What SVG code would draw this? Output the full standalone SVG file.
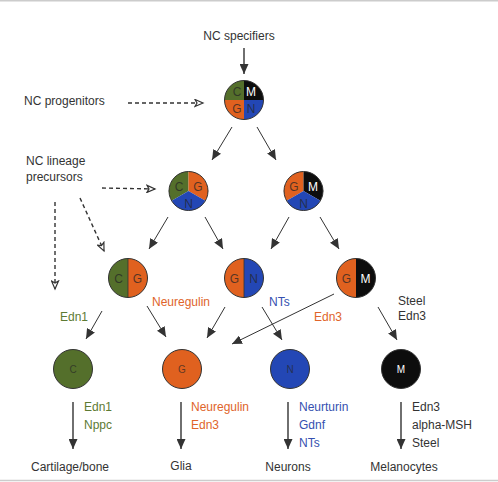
<svg xmlns="http://www.w3.org/2000/svg" width="498" height="482" viewBox="0 0 498 482">
<defs>
<style>
text{font-family:"Liberation Sans",Arial,sans-serif;font-size:12px;fill:#333}
.t{fill:#333}
.g{fill:#5d7a33}
.o{fill:#e0642a}
.b{fill:#3550b0}
.cl{font-size:12px;fill:#262626;fill-opacity:.75;text-anchor:middle}
.cw{font-size:12px;fill:#fff;text-anchor:middle}
.sl{font-size:10px;fill:#262626;fill-opacity:.7;text-anchor:middle}
.sw{font-size:10px;fill:#fff;text-anchor:middle}
.edge{stroke:#333;stroke-width:1;fill:none}
.v{stroke:#333;stroke-width:1.4;fill:none}
.dash{stroke:#333;stroke-width:1.4;stroke-dasharray:4 3;fill:none}
.ring{fill:none;stroke:#333;stroke-width:1}
.G{fill:#546f2b}.O{fill:#e0611f}.B{fill:#2347b5}.K{fill:#0d0d0d}
</style>
<marker id="ah" markerUnits="userSpaceOnUse" markerWidth="11" markerHeight="9" refX="10" refY="4.5" orient="auto" viewBox="0 0 11 9">
<path d="M0,0 L10,4.5 L0,9 z" fill="#333"/>
</marker>
<marker id="dh" markerUnits="userSpaceOnUse" markerWidth="11" markerHeight="9" refX="9" refY="4.5" orient="auto" viewBox="0 0 11 9">
<path d="M1,1 L9,4.5 L1,8 L3,4.5 z" fill="#fff" stroke="#333" stroke-width="1.2"/>
</marker>
</defs>
<rect width="498" height="482" fill="#fff"/>
<line x1="0" y1="0.75" x2="498" y2="0.75" stroke="#ccc" stroke-width="1.5"/>
<line x1="0" y1="480.5" x2="498" y2="480.5" stroke="#ccc" stroke-width="1.5"/>

<g id="labels">
<text x="239" y="40" text-anchor="middle">NC specifiers</text>
<text x="24" y="105">NC progenitors</text>
<text x="26" y="165">NC lineage</text>
<text x="26" y="181">precursors</text>
<text x="60" y="321" class="g">Edn1</text>
<text x="152" y="306" class="o">Neuregulin</text>
<text x="269" y="306" class="b">NTs</text>
<text x="314" y="321" class="o">Edn3</text>
<text x="398" y="305">Steel</text>
<text x="398" y="320">Edn3</text>
<text x="84" y="411" class="g">Edn1</text>
<text x="84" y="429" class="g">Nppc</text>
<text x="191" y="411" class="o">Neuregulin</text>
<text x="191" y="429" class="o">Edn3</text>
<text x="299" y="411" class="b">Neurturin</text>
<text x="299" y="429" class="b">Gdnf</text>
<text x="299" y="447" class="b">NTs</text>
<text x="412" y="411">Edn3</text>
<text x="412" y="429">alpha-MSH</text>
<text x="412" y="447">Steel</text>
<text x="70" y="471" text-anchor="middle">Cartilage/bone</text>
<text x="181" y="470" text-anchor="middle">Glia</text>
<text x="288" y="471" text-anchor="middle">Neurons</text>
<text x="404" y="471" text-anchor="middle">Melanocytes</text>
</g>

<g id="connectors">
<line class="v" x1="244" y1="48" x2="244" y2="74" marker-end="url(#ah)"/>
<line class="dash" x1="128" y1="103" x2="203" y2="103" marker-end="url(#dh)"/>
<line class="edge" x1="232" y1="127" x2="212" y2="160" marker-end="url(#ah)"/>
<line class="edge" x1="257" y1="127" x2="276" y2="160" marker-end="url(#ah)"/>
<line class="dash" x1="102" y1="188" x2="155" y2="189" marker-end="url(#dh)"/>
<line class="dash" x1="55" y1="202" x2="55" y2="289" marker-end="url(#dh)"/>
<line class="dash" x1="80" y1="198" x2="104" y2="251" marker-end="url(#dh)"/>
<line class="edge" x1="168" y1="217" x2="149" y2="249" marker-end="url(#ah)"/>
<line class="edge" x1="205" y1="217" x2="223" y2="249" marker-end="url(#ah)"/>
<line class="edge" x1="289" y1="217" x2="271" y2="249" marker-end="url(#ah)"/>
<line class="edge" x1="320" y1="217" x2="339" y2="249" marker-end="url(#ah)"/>
<line class="edge" x1="102" y1="311" x2="86" y2="339" marker-end="url(#ah)"/>
<line class="edge" x1="147" y1="306" x2="166" y2="337" marker-end="url(#ah)"/>
<line class="edge" x1="225" y1="307" x2="207" y2="338" marker-end="url(#ah)"/>
<line class="edge" x1="334" y1="294" x2="232" y2="344" marker-end="url(#ah)"/>
<line class="edge" x1="262" y1="307" x2="282" y2="340" marker-end="url(#ah)"/>
<line class="edge" x1="378" y1="307" x2="397" y2="340" marker-end="url(#ah)"/>
<line class="v" x1="73" y1="402" x2="73" y2="449" marker-end="url(#ah)"/>
<line class="v" x1="181" y1="402" x2="181" y2="449" marker-end="url(#ah)"/>
<line class="v" x1="288" y1="402" x2="288" y2="449" marker-end="url(#ah)"/>
<line class="v" x1="401" y1="402" x2="401" y2="449" marker-end="url(#ah)"/>
</g>

<g id="node-progenitor" transform="translate(244,100)">
<path class="G" d="M0,0 L0,-19.5 A19.5,19.5 0 0 0 -19.5,0 z"/>
<path class="K" d="M0,0 L19.5,0 A19.5,19.5 0 0 0 0,-19.5 z"/>
<path class="O" d="M0,0 L-19.5,0 A19.5,19.5 0 0 0 0,19.5 z"/>
<path class="B" d="M0,0 L0,19.5 A19.5,19.5 0 0 0 19.5,0 z"/>
<circle class="ring" r="19.5"/>
<text class="cl" x="-7" y="-4">C</text>
<text class="cw" x="7" y="-4">M</text>
<text class="cl" x="-7" y="13">G</text>
<text class="cl" x="7" y="13">N</text>
</g>

<g id="node-cgn" transform="translate(188.5,191)">
<path class="G" d="M0,0 L0,-19.5 A19.5,19.5 0 0 0 -16.89,9.75 z"/>
<path class="O" d="M0,0 L16.89,9.75 A19.5,19.5 0 0 0 0,-19.5 z"/>
<path class="B" d="M0,0 L-16.89,9.75 A19.5,19.5 0 0 0 16.89,9.75 z"/>
<circle class="ring" r="19.5"/>
<text class="cl" x="-9.5" y="0">C</text>
<text class="cl" x="9.5" y="0">G</text>
<text class="cl" x="0" y="17">N</text>
</g>

<g id="node-gmn" transform="translate(303.5,191)">
<path class="O" d="M0,0 L0,-19.5 A19.5,19.5 0 0 0 -16.89,9.75 z"/>
<path class="K" d="M0,0 L16.89,9.75 A19.5,19.5 0 0 0 0,-19.5 z"/>
<path class="B" d="M0,0 L-16.89,9.75 A19.5,19.5 0 0 0 16.89,9.75 z"/>
<circle class="ring" r="19.5"/>
<text class="cl" x="-9.5" y="0">G</text>
<text class="cw" x="9.5" y="0">M</text>
<text class="cl" x="0" y="17">N</text>
</g>

<g id="node-cg" transform="translate(128,278)">
<path class="G" d="M0,-19.5 A19.5,19.5 0 0 0 0,19.5 z"/>
<path class="O" d="M0,-19.5 A19.5,19.5 0 0 1 0,19.5 z"/>
<line x1="0" y1="-19.5" x2="0" y2="19.5" stroke="#333" stroke-width="0.8"/>
<circle class="ring" r="19.5"/>
<text class="cl" x="-9.5" y="5">C</text>
<text class="cl" x="9.5" y="5">G</text>
</g>

<g id="node-gn" transform="translate(244,278)">
<path class="O" d="M0,-19.5 A19.5,19.5 0 0 0 0,19.5 z"/>
<path class="B" d="M0,-19.5 A19.5,19.5 0 0 1 0,19.5 z"/>
<line x1="0" y1="-19.5" x2="0" y2="19.5" stroke="#333" stroke-width="0.8"/>
<circle class="ring" r="19.5"/>
<text class="cl" x="-9.5" y="5">G</text>
<text class="cl" x="9.5" y="5">N</text>
</g>

<g id="node-gm" transform="translate(356,278)">
<path class="O" d="M0,-19.5 A19.5,19.5 0 0 0 0,19.5 z"/>
<path class="K" d="M0,-19.5 A19.5,19.5 0 0 1 0,19.5 z"/>
<circle class="ring" r="19.5"/>
<text class="cl" x="-9.5" y="5">G</text>
<text class="cw" x="9.5" y="5">M</text>
</g>

<g id="node-c" transform="translate(73,369)">
<circle class="G" r="19.5" stroke="#333" stroke-width="1"/>
<text class="sl" y="3.5">C</text>
</g>
<g id="node-g" transform="translate(182,369)">
<circle class="O" r="19.5" stroke="#333" stroke-width="1"/>
<text class="sl" y="3.5">G</text>
</g>
<g id="node-n" transform="translate(290,369)">
<circle class="B" r="19.5" stroke="#333" stroke-width="1"/>
<text class="sl" y="3.5">N</text>
</g>
<g id="node-m" transform="translate(401,369)">
<circle class="K" r="19.5" stroke="#333" stroke-width="1"/>
<text class="sw" y="3.5">M</text>
</g>
</svg>
